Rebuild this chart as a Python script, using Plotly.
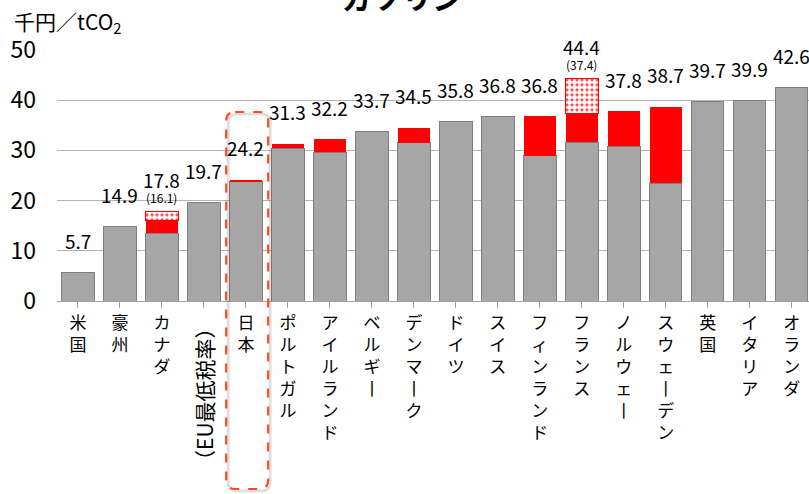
import plotly.graph_objects as go

# ---------------- data ----------------
categories = ["米国", "豪州", "カナダ", "（EU最低税率）", "日本", "ポルトガル", "アイルランド",
              "ベルギー", "デンマーク", "ドイツ", "スイス", "フィンランド", "フランス",
              "ノルウェー", "スウェーデン", "英国", "イタリア", "オランダ"]
base_values = [5.7, 14.9, 13.5, 19.7, 23.9, 30.4, 29.6, 33.7, 31.5, 35.8, 36.8,
               28.9, 31.6, 30.8, 23.5, 39.7, 39.9, 42.6]
red_values = [0, 0, 2.6, 0, 0.3, 0.9, 2.6, 0, 3.0, 0, 0, 7.9, 5.8, 7.0, 15.2, 0, 0, 0]
dotted_values = [0, 0, 1.7, 0, 0, 0, 0, 0, 0, 0, 0, 0, 7.0, 0, 0, 0, 0, 0]
total_labels = ["5.7", "14.9", "17.8", "19.7", "24.2", "31.3", "32.2", "33.7", "34.5",
                "35.8", "36.8", "36.8", "44.4", "37.8", "38.7", "39.7", "39.9", "42.6"]
sub_labels = ["", "", "(16.1)", "", "", "", "", "", "", "", "", "", "(37.4)",
              "", "", "", "", ""]
y_ticks = [0, 10, 20, 30, 40, 50]
title_text = "ガソリン"
unit_text = "千円／tCO<sub>2</sub>"
highlight = "日本"
rotated_label = "（EU最低税率）"

# ---------------- layout constants ----------------
W, H = 809, 494
ML, MR, MT, MB = 57, 0, 50, 193
PW, PH = W - ML - MR, H - MT - MB
FONT = "Noto Sans CJK JP"
GRAY = "#A6A6A6"
RED = "#FF0000"


def vertical(s):
    if s == rotated_label:
        return ""
    return "<br>".join(ch.replace("ー", "丨") for ch in s)


def nz(vals):
    return [v if v else None for v in vals]


x = list(range(len(categories)))
totals = [b + r + d for b, r, d in zip(base_values, red_values, dotted_values)]

fig = go.Figure()
fig.add_trace(go.Bar(x=x, y=nz(base_values),
                     marker=dict(color=GRAY, line=dict(color="#7F7F7F", width=1)),
                     width=0.77, hoverinfo="skip"))
fig.add_trace(go.Bar(x=x, y=nz(red_values), marker=dict(color=RED, line=dict(width=0)),
                     width=0.77, hoverinfo="skip"))
fig.add_trace(go.Bar(x=x, y=nz(dotted_values),
                     marker=dict(color=RED, line=dict(color=RED, width=1),
                                 pattern=dict(shape=".", fgcolor="white", bgcolor="#FF3030",
                                              size=5, solidity=0.75, fillmode="replace")),
                     width=0.77, hoverinfo="skip"))

annotations = []
for i, (t, lab, sub) in enumerate(zip(totals, total_labels, sub_labels)):
    annotations.append(dict(x=i, y=t, xref="x", yref="y", text=lab, showarrow=False,
                            yanchor="middle", yshift=32,
                            font=dict(family=FONT, size=19, color="black")))
    if sub:
        annotations.append(dict(x=i, y=t, xref="x", yref="y", text=sub, showarrow=False,
                                yanchor="middle", yshift=14,
                                font=dict(family=FONT, size=12, color="black")))

# rotated EU label
ri = categories.index(rotated_label)
annotations.append(dict(x=ri, y=-(315 - (MT + PH)) / PH, xref="x", yref="paper",
                        text=rotated_label, textangle=-90, showarrow=False,
                        xanchor="center", yanchor="top",
                        font=dict(family=FONT, size=21, color="black")))
# title & unit
annotations.append(dict(x=(402 - ML) / PW, y=1 + (MT - 20) / PH, xref="paper", yref="paper",
                        text="<b>" + title_text + "</b>", showarrow=False,
                        xanchor="center", yanchor="bottom",
                        font=dict(family=FONT, size=30, color="black")))
annotations.append(dict(x=(12 - ML) / PW, y=1 + (MT - 22) / PH, xref="paper", yref="paper",
                        text=unit_text, showarrow=False, xanchor="left", yanchor="middle",
                        font=dict(family=FONT, size=21, color="black")))

# highlight box around Japan (paper coordinates derived from category index)
xmin, xmax = -0.5, 17.41
hi = categories.index(highlight)
px0 = (hi - 0.5 + 0.03 - xmin) / (xmax - xmin)
px1 = (hi + 0.5 + 0.03 - xmin) / (xmax - xmin)
py1 = 1 - (112 - MT) / PH
py0 = -(489 - (MT + PH)) / PH
rx, ry = 9 / PW, 9 / PH


def rounded(dx, dy):
    a0, a1, b0, b1 = px0 + dx, px1 + dx, py0 + dy, py1 + dy
    return (f"M {a0+rx},{b1} L {a1-rx},{b1} Q {a1},{b1} {a1},{b1-ry} "
            f"L {a1},{b0+ry} Q {a1},{b0} {a1-rx},{b0} L {a0+rx},{b0} "
            f"Q {a0},{b0} {a0},{b0+ry} L {a0},{b1-ry} Q {a0},{b1} {a0+rx},{b1} Z")


shapes = [dict(type="path", xref="paper", yref="paper", path=rounded(2 / PW, -2 / PH),
               line=dict(color="rgba(0,0,0,0.12)", width=3), layer="above"),
          dict(type="path", xref="paper", yref="paper", path=rounded(0, 0),
               line=dict(color="#FF4A1C", width=2.2, dash="dash"), layer="above")]

fig.update_layout(
    width=W, height=H, barmode="stack", bargap=0.23, showlegend=False,
    margin=dict(l=ML, r=MR, t=MT, b=MB, pad=0),
    paper_bgcolor="white", plot_bgcolor="white",
    font=dict(family=FONT, color="black"),
    annotations=annotations, shapes=shapes,
    xaxis=dict(range=[xmin, xmax], tickmode="array", tickvals=x,
               ticktext=[vertical(c) for c in categories],
               tickfont=dict(family=FONT, size=17, color="black"),
               ticks="outside", tickson="boundaries", ticklen=6, tickcolor="#A0A0A0",
               showline=True, linecolor="#A0A0A0", linewidth=1.3, showgrid=False,
               tickangle=0, fixedrange=True),
    yaxis=dict(range=[0, 50], tickmode="array", tickvals=y_ticks,
               tickfont=dict(family=FONT, size=23, color="black"),
               showgrid=True, gridcolor="#B4B4B4", gridwidth=1.2, zeroline=False,
               ticks="", ticklabelstandoff=20, showline=False, fixedrange=True),
)

fig.write_html("out.html")
